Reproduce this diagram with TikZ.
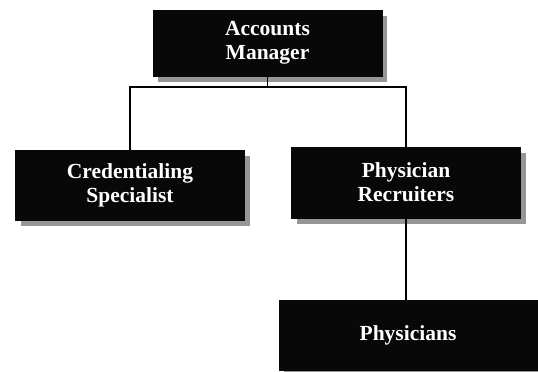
\documentclass[tikz,border=0pt]{standalone}
\usepackage{fontspec}
\setmainfont{Liberation Serif}
\usetikzlibrary{positioning,shadows}
\definecolor{boxc}{RGB}{8,8,8}
\definecolor{shadc}{RGB}{150,150,150}
\tikzset{
  orgbox/.style={draw=boxc, fill=boxc, text=white, align=center,
                 font=\fontsize{21.5}{24}\selectfont\bfseries,
                 minimum width=229pt, minimum height=68pt, inner sep=0pt,
                 drop shadow={shadow xshift=5pt, shadow yshift=-6pt,
                              fill=shadc, opacity=1}},
  link/.style={draw=black, line width=1.8pt},
}

\begin{document}
\begin{tikzpicture}[x=1pt, y=-1pt]
\useasboundingbox (0,0) rectangle (538,372);

% ---------------------------------------------------------------- top
\node[orgbox, minimum height=66pt] (mgr) at (267.5,43) {Accounts\\ Manager};

% ---------------------------------------------------------------- second level
\node[orgbox, minimum height=70pt] (cred) at (130,185) {Credentialing\\ Specialist};
\node[orgbox, minimum height=71pt] (recr) at (406,182.5) {Physician\\ Recruiters};

% ---------------------------------------------------------------- third level
\node[orgbox, minimum width=258pt, minimum height=70pt] (phys) at (408,335) {Physicians};

% ---------------------------------------------------------------- connectors
\coordinate (bus) at (267.5,87);
\draw[link] (mgr.south) -- (bus);
\draw[link] (cred.north) |- (bus) -| (recr.north);
\draw[link] (recr.south) -- (recr.south |- phys.north);

\end{tikzpicture}
\end{document}
